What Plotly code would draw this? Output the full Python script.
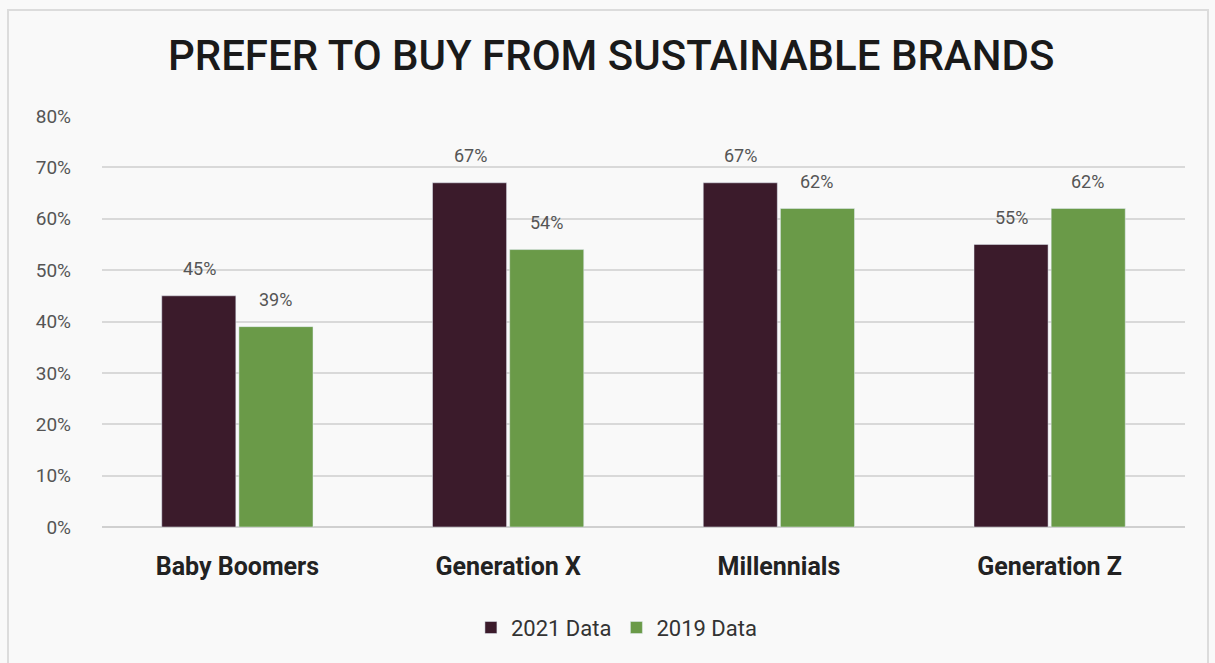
import plotly.graph_objects as go

categories = ["Baby Boomers", "Generation X", "Millennials", "Generation Z"]
data_2021 = [45, 67, 67, 55]
data_2019 = [39, 54, 62, 62]
y_ticks = [0, 10, 20, 30, 40, 50, 60, 70, 80]
y_tick_labels = [f"{v}%" for v in y_ticks]

fig = go.Figure()
fig.add_trace(go.Bar(name="2021 Data", x=categories, y=data_2021, marker_color="#3b1b2b"))
fig.add_trace(go.Bar(name="2019 Data", x=categories, y=data_2019, marker_color="#6a9a48"))

annotations = []
for vals, shift in ((data_2021, -38), (data_2019, 38)):
    for c, v in zip(categories, vals):
        annotations.append(dict(x=c, y=v, xref="x", yref="y", text=f"{v}%",
                                showarrow=False, xshift=shift, yshift=27,
                                font=dict(size=18, color="#555555", family="Roboto")))

fig.update_layout(
    width=1215, height=663,
    paper_bgcolor="#f9f9f9", plot_bgcolor="#f9f9f9",
    margin=dict(l=102, r=30, t=116, b=136),
    barmode="group", bargap=0.43, bargroupgap=0.04,
    title=dict(text="PREFER TO BUY FROM SUSTAINABLE BRANDS",
               x=0.503, xanchor="center", y=0.917, yanchor="middle",
               font=dict(family="Roboto", size=42, color="#1a1a1a", weight=500)),
    font=dict(family="Roboto"),
    legend=dict(orientation="h", x=0.475, xanchor="center", y=-0.245, yanchor="middle",
                font=dict(size=22, color="#333333"), bgcolor="rgba(0,0,0,0)",
                itemwidth=30, traceorder="normal"),
    xaxis=dict(tickfont=dict(size=25, color="#222222", family="Roboto", weight="bold"),
               ticklabelstandoff=22, showline=False, showgrid=False),
    yaxis=dict(range=[0, 80], tickvals=y_ticks, ticktext=y_tick_labels,
               tickfont=dict(size=19, color="#555555", family="Roboto"),
               showgrid=True, gridcolor="#d9d9d9", gridwidth=1.5,
               zeroline=True, zerolinecolor="#d0d0d0", zerolinewidth=1.5,
               ticklabelstandoff=30),
    annotations=annotations,
    shapes=[dict(type="rect", xref="paper", yref="paper",
                 x0=(8 - 102) / 1083, x1=(1208 - 102) / 1083,
                 y0=(527 - 670) / 411, y1=(527 - 10) / 411,
                 line=dict(color="#dcdcdc", width=2), fillcolor="rgba(0,0,0,0)",
                 layer="below")],
)

fig.write_html("out.html")
